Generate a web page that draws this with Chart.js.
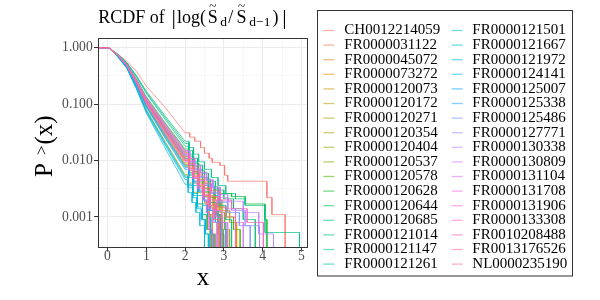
<!DOCTYPE html>
<html>
<head>
<meta charset="utf-8">
<script src="https://cdn.jsdelivr.net/npm/chart.js@4.4.0/dist/chart.umd.min.js"></script>
<style>
  html, body { margin: 0; padding: 0; background: #fff; }
  canvas { display: block; }
</style>
</head>
<body>
<canvas id="rcdf" width="600" height="300"></canvas>
<script>
// ---- data ----
const seriesNames = [
  "CH0012214059", "FR0000031122", "FR0000045072", "FR0000073272", "FR0000120073",
  "FR0000120172", "FR0000120271", "FR0000120354", "FR0000120404", "FR0000120537",
  "FR0000120578", "FR0000120628", "FR0000120644", "FR0000120685", "FR0000121014",
  "FR0000121147", "FR0000121261", "FR0000121501", "FR0000121667", "FR0000121972",
  "FR0000124141", "FR0000125007", "FR0000125338", "FR0000125486", "FR0000127771",
  "FR0000130338", "FR0000130809", "FR0000131104", "FR0000131708", "FR0000131906",
  "FR0000133308", "FR0010208488", "FR0013176526", "NL0000235190",
];

// every curve sits at P = 1 up to flatEndX
const startX = -0.3;
const flatEndX = 0.03;

// P>(x) of each series at these x values (straight part of the curves)
const bodyX = [0.25, 0.5, 0.75, 1, 1.5, 2];
const bodyP = [
  [0.79, 0.575, 0.38, 0.209, 0.085, 0.031],
  [0.75, 0.5, 0.255, 0.12, 0.038, 0.013],
  [0.73, 0.46, 0.222, 0.098, 0.028, 0.0085],
  [0.76, 0.51, 0.27, 0.13, 0.043, 0.015],
  [0.745, 0.49, 0.245, 0.112, 0.034, 0.011],
  [0.735, 0.47, 0.228, 0.1, 0.029, 0.009],
  [0.715, 0.44, 0.197, 0.08, 0.021, 0.0056],
  [0.74, 0.48, 0.239, 0.108, 0.032, 0.01],
  [0.755, 0.5, 0.262, 0.125, 0.04, 0.014],
  [0.73, 0.455, 0.215, 0.092, 0.026, 0.0078],
  [0.745, 0.49, 0.249, 0.115, 0.036, 0.012],
  [0.76, 0.51, 0.275, 0.135, 0.045, 0.016],
  [0.745, 0.485, 0.243, 0.11, 0.034, 0.011],
  [0.775, 0.535, 0.31, 0.162, 0.056, 0.02],
  [0.78, 0.54, 0.318, 0.17, 0.06, 0.022],
  [0.77, 0.53, 0.3, 0.155, 0.052, 0.018],
  [0.71, 0.435, 0.19, 0.075, 0.019, 0.005],
  [0.715, 0.44, 0.195, 0.078, 0.02, 0.0053],
  [0.705, 0.43, 0.182, 0.07, 0.016, 0.0038],
  [0.725, 0.45, 0.209, 0.088, 0.024, 0.007],
  [0.71, 0.435, 0.187, 0.073, 0.018, 0.0046],
  [0.73, 0.46, 0.22, 0.095, 0.027, 0.0082],
  [0.725, 0.455, 0.213, 0.09, 0.025, 0.0075],
  [0.745, 0.49, 0.249, 0.115, 0.037, 0.0125],
  [0.75, 0.495, 0.254, 0.118, 0.038, 0.013],
  [0.755, 0.5, 0.266, 0.128, 0.042, 0.015],
  [0.755, 0.5, 0.264, 0.126, 0.041, 0.0145],
  [0.74, 0.48, 0.236, 0.105, 0.031, 0.0098],
  [0.745, 0.49, 0.247, 0.113, 0.035, 0.0115],
  [0.74, 0.475, 0.231, 0.102, 0.03, 0.0095],
  [0.75, 0.495, 0.256, 0.12, 0.039, 0.0135],
  [0.745, 0.485, 0.243, 0.11, 0.033, 0.0105],
  [0.745, 0.49, 0.248, 0.114, 0.036, 0.012],
  [0.745, 0.485, 0.24, 0.108, 0.032, 0.0102],
];

// tail of each series after x = 2: [x where it drops, new P]; P = 0 at the last one
const tailSteps = [
  [[2.12, 0.026], [2.25, 0.022], [2.4, 0.017], [2.5, 0.0135], [2.62, 0.011], [2.7, 0.0093], [2.9, 0.0082], [3.02, 0.0055], [3.1, 0.0043], [4.11, 0.0022], [4.24, 0.0011], [4.58, 0]],
  [[2.1, 0.0095], [2.2, 0.0072], [2.32, 0.0052], [2.45, 0.0036], [2.6, 0.0024], [2.72, 0.0016], [2.85, 0.0011], [2.93, 0.0005], [3.0, 0]],
  [[2.1, 0.0062], [2.22, 0.0043], [2.35, 0.0029], [2.5, 0.0018], [2.62, 0.0011], [2.7, 0.0005], [2.78, 0]],
  [[2.1, 0.011], [2.2, 0.0082], [2.32, 0.006], [2.45, 0.0042], [2.6, 0.003], [2.78, 0.002], [2.95, 0.0013], [3.15, 0.0008], [3.33, 0]],
  [[2.1, 0.008], [2.22, 0.0058], [2.35, 0.004], [2.5, 0.0027], [2.62, 0.0018], [2.75, 0.0011], [2.85, 0.0005], [2.92, 0]],
  [[2.1, 0.0066], [2.2, 0.0048], [2.32, 0.0034], [2.45, 0.0024], [2.6, 0.0016], [2.8, 0.0011], [2.95, 0.0006], [3.08, 0]],
  [[2.08, 0.004], [2.2, 0.0027], [2.32, 0.0017], [2.45, 0.0011], [2.55, 0.0006], [2.65, 0]],
  [[2.1, 0.0072], [2.22, 0.0051], [2.35, 0.0035], [2.48, 0.0023], [2.6, 0.0015], [2.72, 0.0009], [2.85, 0]],
  [[2.1, 0.0105], [2.2, 0.0078], [2.32, 0.0056], [2.45, 0.0039], [2.6, 0.0027], [2.75, 0.0018], [2.9, 0.0012], [3.02, 0.0006], [3.15, 0]],
  [[2.1, 0.0056], [2.2, 0.004], [2.32, 0.0027], [2.45, 0.0017], [2.58, 0.0011], [2.65, 0.0005], [2.72, 0]],
  [[2.1, 0.0088], [2.22, 0.0064], [2.35, 0.0046], [2.5, 0.0032], [2.65, 0.0022], [2.85, 0.0015], [3.05, 0.001], [3.25, 0.0006], [3.42, 0]],
  [[2.1, 0.012], [2.22, 0.009], [2.35, 0.0066], [2.5, 0.0047], [2.65, 0.0034], [2.85, 0.0026], [3.2, 0.0023], [3.55, 0.0017], [4.06, 0.0009], [4.11, 0]],
  [[2.1, 0.0082], [2.22, 0.006], [2.35, 0.0042], [2.5, 0.0028], [2.65, 0.0018], [2.8, 0.0011], [2.9, 0.0006], [2.98, 0]],
  [[2.1, 0.015], [2.2, 0.011], [2.32, 0.0083], [2.45, 0.006], [2.6, 0.0043], [2.78, 0.003], [3.0, 0.0021], [3.25, 0.0014], [3.5, 0.0009], [3.81, 0]],
  [[2.1, 0.017], [2.22, 0.013], [2.35, 0.0095], [2.5, 0.007], [2.68, 0.005], [2.85, 0.0036], [3.05, 0.0026], [3.3, 0.0021], [3.55, 0.0016], [4.06, 0.00053], [4.95, 0]],
  [[2.1, 0.013], [2.2, 0.0095], [2.32, 0.007], [2.45, 0.005], [2.6, 0.0035], [2.75, 0.0024], [2.9, 0.0016], [3.05, 0.0009], [3.2, 0]],
  [[2.08, 0.0036], [2.2, 0.0024], [2.32, 0.0015], [2.45, 0.0009], [2.52, 0.0005], [2.6, 0]],
  [[2.08, 0.0038], [2.2, 0.0026], [2.32, 0.0017], [2.45, 0.0011], [2.58, 0.0006], [2.68, 0]],
  [[2.08, 0.0027], [2.18, 0.0018], [2.28, 0.0012], [2.38, 0.0007], [2.5, 0]],
  [[2.1, 0.005], [2.2, 0.0036], [2.32, 0.0024], [2.45, 0.0016], [2.58, 0.001], [2.66, 0.0005], [2.75, 0]],
  [[2.08, 0.0033], [2.2, 0.0022], [2.3, 0.0014], [2.42, 0.0009], [2.52, 0.0005], [2.62, 0]],
  [[2.1, 0.006], [2.22, 0.0043], [2.35, 0.003], [2.48, 0.002], [2.62, 0.0013], [2.78, 0.0008], [2.9, 0]],
  [[2.1, 0.0055], [2.22, 0.004], [2.35, 0.0028], [2.5, 0.0019], [2.65, 0.0013], [2.85, 0.0008], [3.05, 0]],
  [[2.1, 0.0092], [2.22, 0.0068], [2.35, 0.005], [2.5, 0.0036], [2.65, 0.0026], [2.85, 0.0018], [3.1, 0.0012], [3.4, 0.0007], [3.68, 0]],
  [[2.1, 0.0096], [2.22, 0.007], [2.35, 0.0052], [2.5, 0.0038], [2.68, 0.0027], [2.9, 0.0019], [3.2, 0.0013], [3.55, 0.0007], [3.92, 0]],
  [[2.12, 0.011], [2.25, 0.0083], [2.4, 0.0062], [2.55, 0.0046], [2.72, 0.0034], [2.9, 0.0025], [3.1, 0.0019], [3.5, 0.0012], [3.9, 0.0005], [4.28, 0]],
  [[2.12, 0.0108], [2.25, 0.008], [2.4, 0.006], [2.55, 0.0044], [2.72, 0.0032], [2.9, 0.0022], [3.1, 0.0014], [3.3, 0.0008], [3.5, 0]],
  [[2.1, 0.007], [2.22, 0.005], [2.35, 0.0034], [2.48, 0.0022], [2.6, 0.0014], [2.72, 0.0008], [2.82, 0]],
  [[2.1, 0.0085], [2.22, 0.0062], [2.35, 0.0044], [2.5, 0.003], [2.65, 0.002], [2.8, 0.0013], [2.95, 0.0008], [3.1, 0]],
  [[2.1, 0.0068], [2.2, 0.0048], [2.32, 0.0032], [2.45, 0.002], [2.55, 0.0012], [2.62, 0.0006], [2.7, 0]],
  [[2.1, 0.01], [2.22, 0.0074], [2.35, 0.0055], [2.5, 0.004], [2.68, 0.0029], [2.9, 0.002], [3.2, 0.0014], [3.6, 0.0008], [4.02, 0]],
  [[2.1, 0.0076], [2.22, 0.0055], [2.35, 0.0038], [2.5, 0.0025], [2.65, 0.0016], [2.8, 0.001], [2.95, 0]],
  [[2.1, 0.0088], [2.22, 0.0065], [2.35, 0.0047], [2.5, 0.0033], [2.65, 0.0023], [2.85, 0.0015], [3.05, 0.001], [3.3, 0]],
  [[2.1, 0.0073], [2.22, 0.0052], [2.35, 0.0036], [2.48, 0.0024], [2.62, 0.0015], [2.75, 0.0009], [2.88, 0]],
];

const xTicks = [0, 1, 2, 3, 4, 5];
const xMinorTicks = [0.5, 1.5, 2.5, 3.5, 4.5];
const yTicks = [0.001, 0.01, 0.1, 1];
const yTickLabels = ["0.001", "0.010", "0.100", "1.000"];
const yMinorTicks = [0.000316, 0.00316, 0.0316, 0.316];

// ---- styling helpers ----
const FONT = '"Liberation Serif", "Times New Roman", serif';
const floorP = 1e-5; // P = 0 can't sit on a log axis, push it off the bottom

// ggplot-like hue palette
function hcl(h, c, l) {
  const hr = (h * Math.PI) / 180;
  const U = c * Math.cos(hr);
  const V = c * Math.sin(hr);
  const Xn = 95.047, Yn = 100, Zn = 108.883;
  const den = Xn + 15 * Yn + 3 * Zn;
  const un = (4 * Xn) / den;
  const vn = (9 * Yn) / den;
  const Y = (Yn * Math.pow((l + 16) / 116, 3)) / 100;
  const u = U / (13 * l) + un;
  const v = V / (13 * l) + vn;
  const X = (9 * Y * u) / (4 * v);
  const Z = (Y * (12 - 3 * u - 20 * v)) / (4 * v);
  const lin = [
    3.240479 * X - 1.53715 * Y - 0.498535 * Z,
    -0.969256 * X + 1.875992 * Y + 0.041556 * Z,
    0.055648 * X - 0.204043 * Y + 1.057311 * Z,
  ];
  return lin.map((q) => {
    const g = q <= 0.0031308 ? 12.92 * q : 1.055 * Math.pow(q, 1 / 2.4) - 0.055;
    return Math.round(Math.min(1, Math.max(0, g)) * 255);
  });
}

function seriesColor(i, alpha) {
  const [r, g, b] = hcl(15 + (i * 360) / seriesNames.length, 100, 65);
  return `rgba(${r},${g},${b},${alpha})`;
}

function buildPoints(i) {
  const pts = [{ x: startX, y: 1 }, { x: flatEndX, y: 1 }];
  bodyX.forEach((x, k) => pts.push({ x, y: bodyP[i][k] }));
  let prevY = pts[pts.length - 1].y;
  tailSteps[i].forEach(([x, p]) => {
    const y = p > 0 ? p : floorP;
    pts.push({ x, y: prevY });
    pts.push({ x, y });
    prevY = y;
  });
  return pts;
}

const datasets = seriesNames.map((name, i) => ({
  label: name,
  data: buildPoints(i),
  borderColor: seriesColor(i, 0.7),
  borderWidth: 1,
  pointRadius: 0,
  tension: 0,
  clip: 0,
  order: seriesNames.length - i,
}));

// text with sub/superscripts drawn piece by piece
function drawPieces(ctx, baseX, baseY, pieces) {
  pieces.forEach((p) => {
    ctx.font = `${p.size}px ${FONT}`;
    ctx.fillText(p.text, baseX + p.at, baseY + (p.dy || 0));
  });
}

const overlay = {
  id: "overlay",
  afterDatasetsDraw(chart) {
    const { ctx, chartArea: a } = chart;
    ctx.save();
    // panel border
    ctx.strokeStyle = "#333333";
    ctx.lineWidth = 1;
    ctx.strokeRect(a.left + 0.5, a.top + 0.5, a.right - a.left - 1, a.bottom - a.top - 1);

    ctx.fillStyle = "#000";
    ctx.textBaseline = "alphabetic";
    ctx.textAlign = "left";

    // title
    drawPieces(ctx, 0, 22.7, [
      { text: "RCDF of", size: 18, at: 98.3 },
      { text: "|", size: 22, at: 171.5, dy: 1 },
      { text: "log(", size: 18, at: 177 },
      { text: "S", size: 18, at: 207.8 },
      { text: "~", size: 13, at: 209.2, dy: -13 },
      { text: "d", size: 13.5, at: 220.3, dy: 3 },
      { text: "/", size: 18, at: 228.3 },
      { text: "S", size: 18, at: 236.5 },
      { text: "~", size: 13, at: 237.9, dy: -13 },
      { text: "d\u22121", size: 13.5, at: 249.3, dy: 3 },
      { text: ")", size: 18, at: 272.5 },
      { text: "|", size: 22, at: 282.3, dy: 1 },
    ]);

    // x axis title
    ctx.font = `25px ${FONT}`;
    ctx.textAlign = "center";
    ctx.fillText("x", (a.left + a.right) / 2, 285.3);

    // y axis title, rotated
    ctx.save();
    ctx.translate(51.7, 177);
    ctx.rotate(-Math.PI / 2);
    ctx.textAlign = "left";
    drawPieces(ctx, 0, 0, [
      { text: "P", size: 25, at: 0 },
      { text: ">", size: 17, at: 22, dy: -4.7 },
      { text: "(x)", size: 25, at: 32.5 },
    ]);
    ctx.restore();

    // legend box
    ctx.strokeStyle = "#333333";
    ctx.strokeRect(317.5, 10.5, 255, 265.5);
    const perCol = Math.ceil(chart.data.datasets.length / 2);
    ctx.font = `15px ${FONT}`;
    ctx.textAlign = "left";
    ctx.textBaseline = "middle";
    chart.data.datasets.forEach((ds, i) => {
      const col = Math.floor(i / perCol);
      const row = i % perCol;
      const y = 30.5 + row * 14.6;
      const keyX = col === 0 ? 323.3 : 451.7;
      const textX = col === 0 ? 344.3 : 472.3;
      ctx.strokeStyle = seriesColor(i, 0.55);
      ctx.lineWidth = 1.3;
      ctx.beginPath();
      ctx.moveTo(keyX, y);
      ctx.lineTo(keyX + 11, y);
      ctx.stroke();
      ctx.fillStyle = "#000";
      ctx.fillText(ds.label, textX, y);
    });
    ctx.restore();
  },
};

const gridColor = (ctx, majors) =>
  ctx.tick && majors.includes(ctx.tick.value) ? "#EBEBEB" : "#F1F1F1";

new Chart(document.getElementById("rcdf"), {
  type: "line",
  data: { datasets },
  plugins: [overlay],
  options: {
    responsive: false,
    animation: false,
    events: [],
    layout: { padding: { left: 0, top: 38, right: 292, bottom: 0 } },
    plugins: { legend: { display: false }, tooltip: { enabled: false }, title: { display: false } },
    scales: {
      x: {
        type: "linear",
        min: -0.245,
        max: 5.17,
        afterBuildTicks: (scale) => {
          scale.ticks = xTicks.concat(xMinorTicks).sort((p, q) => p - q).map((v) => ({ value: v }));
        },
        afterFit: (scale) => { scale.height = 52; },
        border: { display: false },
        grid: {
          color: (ctx) => gridColor(ctx, xTicks),
          lineWidth: (ctx) => (ctx.tick && xTicks.includes(ctx.tick.value) ? 1 : 0.6),
          tickLength: 3.5,
          tickColor: (ctx) => (ctx.tick && xTicks.includes(ctx.tick.value) ? "#333333" : "rgba(0,0,0,0)"),
        },
        ticks: {
          autoSkip: false,
          maxRotation: 0,
          padding: -2,
          color: "#4D4D4D",
          font: { family: FONT, size: 13.6, lineHeight: 1 },
          callback: (v) => (xTicks.includes(v) ? String(v) : ""),
        },
      },
      y: {
        type: "logarithmic",
        min: Math.pow(10, -3.55),
        max: Math.pow(10, 0.172),
        afterBuildTicks: (scale) => {
          scale.ticks = yMinorTicks.concat(yTicks).sort((p, q) => p - q).map((v) => ({ value: v }));
        },
        afterFit: (scale) => { scale.width = 98; },
        border: { display: false },
        grid: {
          color: (ctx) => gridColor(ctx, yTicks),
          lineWidth: (ctx) => (ctx.tick && yTicks.includes(ctx.tick.value) ? 1 : 0.6),
          tickLength: 4,
          tickColor: (ctx) => (ctx.tick && yTicks.includes(ctx.tick.value) ? "#333333" : "rgba(0,0,0,0)"),
        },
        ticks: {
          autoSkip: false,
          padding: 1.3,
          color: "#4D4D4D",
          font: { family: FONT, size: 13.6 },
          callback: (v) => {
            const k = yTicks.indexOf(v);
            return k >= 0 ? yTickLabels[k] : "";
          },
        },
      },
    },
  },
});
</script>
</body>
</html>
